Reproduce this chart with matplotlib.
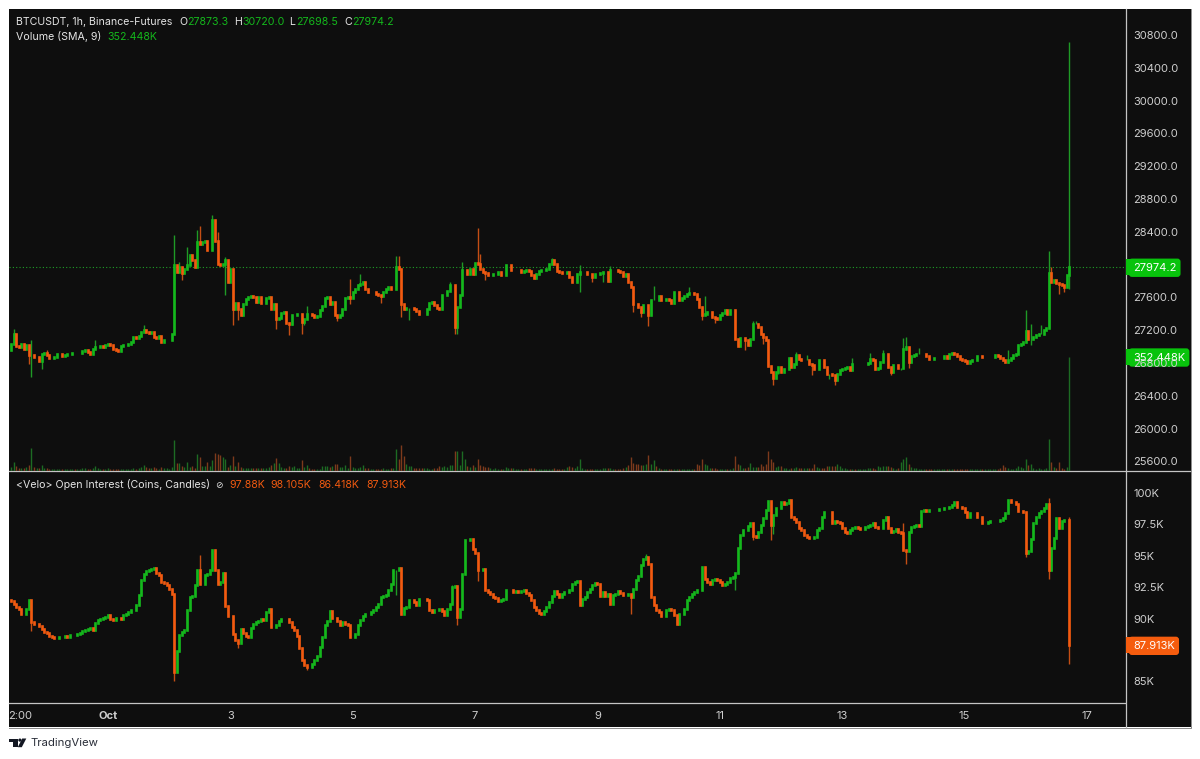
import numpy as np
import matplotlib
matplotlib.use("Agg")
import matplotlib.pyplot as plt
from matplotlib.patches import Rectangle, Circle, Polygon

plt.rcParams['font.family'] = ['Inter', 'DejaVu Sans']

# ===============================
# DATA
# ===============================

first_open = 26955
closes = [
    27036,27158,27004,26996,27028,26975,27016,26894,26894,26874,
    26874,26825,26906,26922,26894,26865,26865,26874,26906,26906,
    26882,26894,26914,26914,26922,26918,26922,26922,26947,26955,
    26930,26906,26967,26996,26996,27004,26996,27016,27036,27016,
    26975,26955,26947,27004,27016,27024,27028,27057,27118,27110,
    27126,27179,27199,27179,27167,27175,27118,27110,27126,27057,
    27077,27077,27085,27158,27992,27911,27972,27899,27952,27992,
    28115,28054,27972,28277,28257,28277,28290,28184,28184,28542,
    28290,28013,27992,28013,28054,27789,27952,27464,27533,27464,
    27382,27525,27586,27606,27614,27606,27545,27606,27533,27533,
    27598,27606,27464,27525,27341,27354,27411,27423,27289,27272,
    27382,27382,27403,27403,27301,27342,27403,27395,27382,27362,
    27370,27443,27492,27598,27606,27517,27545,27382,27362,27382,
    27464,27598,27606,27598,27667,27708,27749,27769,27789,27708,
    27667,27667,27667,27639,27626,27614,27667,27708,27728,27708,
    27708,27972,27952,27525,27464,27476,27476,27476,27464,27435,
    27403,27395,27403,27464,27533,27545,27504,27476,27464,27626,
    27626,27679,27749,27749,27240,27484,27626,27932,27932,27891,
    27952,27891,28021,28013,27952,27911,27899,27871,27871,27891,
    27891,27911,27871,27871,27993,27993,27932,27932,27932,27932,
    27911,27923,27932,27923,27871,27842,27891,27923,27932,27940,
    27952,28013,28062,28013,27923,27911,27899,27899,27911,27850,
    27789,27789,27883,27911,27911,27911,27891,27883,27850,27883,
    27891,27900,27912,27912,27802,27932,27940,27932,27924,27912,
    27859,27891,27790,27728,27525,27517,27484,27423,27505,27505,
    27383,27566,27574,27566,27615,27566,27574,27586,27574,27533,
    27667,27667,27574,27598,27615,27647,27655,27655,27647,27586,
    27484,27383,27403,27423,27423,27362,27354,27342,27383,27411,
    27444,27403,27444,27452,27098,27004,27110,27110,27077,27016,
    27098,27273,27273,27240,27151,27118,27086,26760,26691,26622,
    26691,26752,26691,26732,26732,26866,26752,26793,26894,26854,
    26841,26841,26841,26793,26772,26732,26732,26841,26833,26752,
    26671,26671,26650,26597,26671,26711,26732,26744,26752,26711,
    26793,26784,26784,26784,26784,26793,26801,26854,26833,26732,
    26744,26813,26907,26915,26752,26691,26772,26772,26744,26744,
    26976,26996,26813,26882,26894,26906,26906,26906,26914,26882,
    26853,26845,26866,26866,26866,26866,26882,26866,26906,26923,
    26906,26882,26853,26841,26825,26801,26825,26833,26841,26882,
    26882,26874,26874,26874,26874,26874,26894,26882,26866,26841,
    26813,26841,26866,26894,26914,27016,27037,27057,27191,27098,
    27098,27118,27138,27159,27159,27207,27232,27899,27789,27810,
    27777,27769,27749,27728,27871,27974.2,
]

# candles with a visible wick: index, then price
high_idx = [1,8,14,33,52,64,66,69,73,74,79,81,84,116,133,137,151,152,172,177,183,184,212,223,235,
            252,266,272,291,292,308,312,330,337,342,350,351,356,391,398,400,404,407,408,415]
high_val = [27219,27085,26963,27077,27260,28359,28033,28216,28420,28469,28603,28399,28094,27492,27830,
            27891,28102,28102,27789,28033,28452,28135,28082,27993,27981,27737,27728,27615,27309,27309,
            26935,26902,26866,26923,26963,27110,27118,26988,26955,27452,27281,27261,28168,27972,30720]
low_idx = [8,7,12,67,84,87,89,104,109,110,114,115,128,133,145,153,156,174,175,186,223,228,232,244,
           247,250,271,276,288,295,299,301,305,314,321,323,345,349,352,391,400,411,413,415]
low_val = [26629,26792,26731,27818,27626,27260,27329,27219,27138,27260,27159,27260,27313,27517,27533,
           27362,27329,27159,27150,27818,27667,27789,27790,27423,27362,27248,27322,27289,26955,27037,
           26528,26671,26752,26650,26610,26528,26660,26710,26744,26801,27016,27647,27668,27698.5]

# volume in thousands
volumes = [
    12,25,15,9,8,9,12,18,69,12, 9,9,18,9,9,6,6,6,6,6,
    6,6,6,6,6,6,6,6,9,9, 6,6,8,15,9,6,6,6,9,6,
    6,6,6,6,6,6,6,6,8,6, 9,12,18,12,9,9,12,9,6,12,
    9,9,6,12,94,22,22,15,12,25, 12,15,9,50,43,15,15,25,15,33,
    53,50,47,41,35,12,18,45,15,25, 12,9,9,9,8,8,8,8,9,9,
    9,12,18,22,38,22,12,9,9,15, 12,15,9,9,33,12,18,9,6,6,
    6,6,15,15,15,12,15,21,21,12, 12,18,9,45,12,9,9,12,18,9,
    9,6,6,6,6,6,9,6,6,9, 9,67,37,80,45,21,15,15,9,9,
    9,9,9,9,6,6,9,9,15,12, 15,12,18,18,59,59,18,59,37,15,
    12,18,12,37,18,15,12,12,9,6, 9,6,6,6,12,9,9,9,6,6,
    6,6,6,9,9,9,6,6,6,6, 6,6,6,9,6,6,6,6,12,15,
    12,9,15,37,9,6,6,6,6,6, 6,6,9,9,9,9,6,6,6,6,
    9,12,18,41,24,21,21,18,18,21, 48,21,31,15,9,6,6,6,6,6,
    6,6,6,6,6,6,6,6,6,21, 18,37,21,18,9,9,9,6,6,6,
    6,6,6,9,45,21,18,9,9,12, 24,12,12,12,21,15,21,59,37,27,
    12,15,15,9,9,6,9,9,12,9, 9,9,9,9,9,21,12,9,9,9,
    15,15,15,15,21,15,9,9,6,6, 6,6,6,6,6,6,9,9,9,6,
    15,12,15,15,15,12,9,6,9,27, 37,41,21,12,9,9,6,6,6,6,
    6,6,6,6,6,6,6,6,6,6, 6,6,6,6,6,6,6,6,6,6,
    6,6,6,6,6,6,6,6,9,18, 12,9,6,6,9,15,12,9,37,18,
    21,9,6,9,6,6,9,96,27,12, 9,27,9,6,12,352.448,
]

# open interest in thousands of coins
oi_first_open = 91.46
oi_closes = [
    91.38,91.14,90.93,90.80,90.40,90.40,90.80,91.46,89.74,89.60,
    89.55,89.39,89.20,88.94,88.86,88.59,88.54,88.46,88.49,88.54,
    88.54,88.59,88.54,88.67,88.67,88.67,88.75,88.86,88.99,89.12,
    89.20,89.28,89.07,89.66,89.92,90.00,90.05,90.13,90.27,90.00,
    89.92,90.08,90.08,90.00,90.27,90.40,90.53,90.72,90.72,91.07,
    91.86,93.11,93.59,93.80,93.91,93.99,94.07,93.65,93.46,92.93,
    92.85,92.66,92.40,92.00,85.75,87.42,88.67,88.94,89.07,90.72,
    91.73,91.78,92.66,93.91,92.74,92.79,93.46,93.59,93.91,95.45,
    93.91,92.79,92.93,93.65,90.99,90.19,90.19,88.75,88.27,88.06,
    89.20,88.86,88.59,88.54,89.28,89.60,89.74,89.81,90.00,89.92,
    90.53,90.80,89.34,89.34,89.47,89.81,89.97,90.00,89.97,89.74,
    89.34,89.07,88.59,87.69,86.68,86.28,86.14,86.14,86.36,86.68,
    86.99,87.74,88.54,89.47,89.81,90.61,90.08,90.08,89.81,89.47,
    89.74,89.60,89.47,88.54,88.54,88.75,89.47,89.87,90.19,90.40,
    90.40,90.53,90.72,90.93,91.20,91.73,91.78,91.86,92.31,92.79,
    93.86,93.86,94.07,90.34,90.88,90.93,91.46,91.52,91.33,91.06,
    91.60,91.60,91.60,91.46,90.72,90.53,90.72,90.72,90.80,90.61,
    90.27,90.80,91.20,92.53,92.58,90.13,90.80,93.54,96.25,96.30,
    96.36,95.51,95.24,93.91,93.91,93.99,92.26,92.13,91.94,91.73,
    91.67,91.41,91.46,91.60,92.31,92.31,92.26,92.13,92.21,92.13,
    92.18,92.26,92.05,91.86,91.46,90.93,90.72,90.45,90.34,90.61,
    90.93,91.33,91.78,92.21,92.00,91.73,92.00,92.13,92.13,92.26,
    92.74,92.93,93.00,91.12,91.60,91.73,92.13,92.39,92.66,92.85,
    92.79,91.78,92.13,91.78,91.94,91.20,91.86,92.00,92.18,92.05,
    91.86,91.86,91.94,91.73,92.39,93.06,93.38,94.26,94.79,94.92,
    94.33,91.73,91.06,90.72,90.53,90.19,90.19,90.72,90.80,90.72,
    90.27,89.55,90.34,90.40,90.80,91.46,91.73,92.00,92.13,92.26,
    92.26,94.12,93.19,92.93,92.79,93.06,93.19,93.06,92.93,92.66,
    92.79,92.93,93.27,93.32,93.64,95.59,96.65,97.05,97.05,97.37,
    97.58,96.57,96.52,96.92,97.45,97.98,98.65,99.39,97.45,98.25,
    98.78,98.78,99.31,99.12,99.18,99.44,98.06,97.90,97.72,97.18,
    97.05,96.65,96.52,96.46,96.39,96.52,97.05,97.18,98.11,98.46,
    98.51,98.51,97.58,97.77,97.72,97.58,97.18,96.92,96.84,97.05,
    97.18,97.32,97.18,97.10,97.10,97.26,97.37,97.45,97.58,97.26,
    97.24,97.18,97.85,98.06,97.18,96.92,97.00,97.10,96.92,96.84,
    95.45,95.40,96.92,97.32,97.37,97.45,97.37,98.59,98.65,98.59,
    98.65,98.65,98.65,98.65,98.70,98.70,98.78,98.78,98.91,99.05,
    99.31,98.91,98.86,98.81,98.51,98.11,98.38,98.43,98.38,98.06,
    98.06,97.64,97.64,97.72,97.74,97.74,97.79,97.79,97.85,97.98,
    98.38,99.44,99.31,99.31,99.12,98.59,98.57,98.51,95.24,95.40,
    96.31,97.58,98.11,98.38,98.59,98.78,99.12,93.91,95.59,96.39,
    97.98,97.18,97.79,97.85,97.88,87.913,
]
oi_high_idx = [74,80,173,249,350,407,415]
oi_high_val = [95.05,94.52,92.66,95.13,97.64,99.58,98.105]
oi_low_idx = [8,64,89,116,151,175,183,243,284,291,298,299,351,398,407,415]
oi_low_val = [89.0,85.03,87.69,85.88,91.86,89.47,93.0,90.40,92.31,96.3,96.3,96.73,94.39,94.87,93.19,86.418]

price_ticks = [25600 + 400 * k for k in range(14)]
oi_ticks = [85, 87.5, 90, 92.5, 95, 97.5, 100]
oi_tick_labels = ["85K", "87.5K", "90K", "92.5K", "95K", "97.5K", "100K"]

# time axis, candle index of each label
time_pos = [3.5, 38, 86, 134, 182, 230, 278, 326, 374, 422]
time_labels = ["2:00", "Oct", "3", "5", "7", "9", "11", "13", "15", "17"]

# ===============================
# COLOURS AND LAYOUT
# ===============================

BG = "#0e0e0e"
GREEN = "#14b81c"
ORANGE = "#f25a10"
GREEN_W = "#1f9a26"
ORANGE_W = "#c44e14"
GREEN_V = "#1d6b23"
ORANGE_V = "#7d3a1c"
TAG_GREEN = "#08c30c"
TAG_ORANGE = "#f55c0e"
TEXT = "#e4e4e4"
AXIS_TEXT = "#cfcfcf"
LINE = "#c4c4c4"

W, H = 1200, 759
fig = plt.figure(figsize=(W / 100, H / 100), dpi=100, facecolor="white")


def px_axes(x0, y0, x1, y1):
    # axes from pixel box, y counted from the top
    return fig.add_axes([x0 / W, 1 - y1 / H, (x1 - x0) / W, (y1 - y0) / H])


# backdrop in pixel units, holds frame and header texts
bg = fig.add_axes([0, 0, 1, 1], zorder=0)
bg.set_xlim(0, W)
bg.set_ylim(H, 0)
bg.axis("off")
bg.add_patch(Rectangle((9, 9), 1181.5, 718, facecolor=BG, edgecolor="none"))
bg.plot([9, 1190.5, 1190.5], [727.5, 727.5, 9], color="#8a8a8a", lw=0.7)
bg.plot([1125.5, 1125.5], [9, 727], color=LINE, lw=0.9)
bg.plot([9, 1190], [471, 471], color=LINE, lw=0.9)
bg.plot([9, 1125], [703, 703], color=LINE, lw=0.9)

X0, X1 = 9, 1125.5
XLIM = (-0.8, 437.1)
n = len(closes)
x = np.arange(n)


def candles(ax, first, cl, hi_idx, hi_val, lo_idx, lo_val):
    cl = np.array(cl, dtype=float)
    op = np.concatenate([[first], cl[:-1]])
    hi = np.maximum(op, cl)
    lo = np.minimum(op, cl)
    hi[hi_idx] = np.maximum(hi[hi_idx], hi_val)
    lo[lo_idx] = np.minimum(lo[lo_idx], lo_val)
    up = cl >= op
    ax.vlines(x[up], lo[up], hi[up], color=GREEN_W, lw=1.0, zorder=3)
    ax.vlines(x[~up], lo[~up], hi[~up], color=ORANGE_W, lw=1.0, zorder=3)
    ax.vlines(x[up], op[up], cl[up], color=GREEN, lw=1.9, capstyle="projecting", zorder=4)
    ax.vlines(x[~up], op[~up], cl[~up], color=ORANGE, lw=1.9, capstyle="projecting", zorder=4)
    return up


# -------------------------------
# VOLUME + PRICE PANE
# -------------------------------

ax_vol = px_axes(X0, 9, X1, 470.5)
ax_vol.set_zorder(1)
ax_vol.patch.set_alpha(0)
ax_vol.set_xlim(*XLIM)
ax_vol.set_ylim(0, 1427)
ax_vol.set_xticks([])
ax_vol.set_yticks([])
for s in ax_vol.spines.values():
    s.set_visible(False)

ax = px_axes(X0, 9, X1, 470.5)
ax.set_zorder(2)
ax.patch.set_alpha(0)
ax.set_xlim(*XLIM)
ax.set_ylim(25490, 31117)
up = candles(ax, first_open, closes, high_idx, high_val, low_idx, low_val)

vols = np.array(volumes, dtype=float)
ax_vol.vlines(x[up], 0, vols[up], color=GREEN_V, lw=1.0)
ax_vol.vlines(x[~up], 0, vols[~up], color=ORANGE_V, lw=1.0)

ax.axhline(27974.2, color="#1fa026", lw=0.8, ls=(0, (1, 2)), zorder=2)
ax.set_xticks([])
ax.yaxis.tick_right()
ax.set_yticks(price_ticks, [f"{v:.1f}" for v in price_ticks])
ax.tick_params(axis="y", length=0, pad=5.4, labelsize=8.0, labelcolor=AXIS_TEXT)
for s in ax.spines.values():
    s.set_visible(False)

# -------------------------------
# OPEN INTEREST PANE
# -------------------------------

ax_oi = px_axes(X0, 472, X1, 702.5)
ax_oi.set_zorder(2)
ax_oi.patch.set_alpha(0)
ax_oi.set_xlim(*XLIM)
ax_oi.set_ylim(83.32, 101.68)
candles(ax_oi, oi_first_open, oi_closes, oi_high_idx, oi_high_val, oi_low_idx, oi_low_val)
ax_oi.yaxis.tick_right()
ax_oi.set_yticks(oi_ticks, oi_tick_labels)
ax_oi.set_xticks(time_pos, time_labels)
ax_oi.tick_params(axis="y", length=0, pad=5.4, labelsize=8.0, labelcolor=AXIS_TEXT)
ax_oi.tick_params(axis="x", length=0, pad=6, labelsize=8.0, labelcolor=AXIS_TEXT)
ax_oi.get_xticklabels()[1].set_fontweight("bold")
for s in ax_oi.spines.values():
    s.set_visible(False)

# last value tags on the price scale
tag_x = (1133 - X0) / (X1 - X0)


def tag(axis, value, label, color):
    px = (axis.get_ylim()[1] - axis.get_ylim()[0]) / (axis.get_position().height * H)
    # square part against the scale line, rounded part comes from the text box
    axis.add_patch(Rectangle((1.0, value - 8 * px), tag_x - 0.99, 16 * px, transform=axis.get_yaxis_transform(),
                             facecolor=color, edgecolor="none", clip_on=False, zorder=9))
    axis.text(tag_x, value, label, transform=axis.get_yaxis_transform(), clip_on=False,
              color="white", fontsize=8.0, va="center_baseline", ha="left", zorder=10,
              bbox=dict(boxstyle="round,pad=0.2,rounding_size=0.12", facecolor=color, edgecolor=color, lw=2.8))


tag(ax, 27974.2, "27974.2", TAG_GREEN)
tag(ax_vol, 352.448, "352.448K", TAG_GREEN)
tag(ax_oi, 87.913, "87.913K", TAG_ORANGE)

# -------------------------------
# HEADER TEXTS
# -------------------------------

FS = 7.65
bg.text(16, 22, "BTCUSDT, 1h, Binance-Futures", color=TEXT, fontsize=FS, va="center")
for lx, vx, letter, val in [(179, 187, "O", "27873.3"), (234, 242, "H", "30720.0"),
                            (289, 296, "L", "27698.5"), (344, 352, "C", "27974.2")]:
    bg.text(lx, 22, letter, color=TEXT, fontsize=FS, va="center")
    bg.text(vx, 22, val, color=GREEN, fontsize=FS, va="center")

bg.text(16, 37, "Volume (SMA, 9)", color=TEXT, fontsize=FS, va="center")
bg.text(107, 37, "352.448K", color=GREEN, fontsize=FS, va="center")

bg.text(16, 485, "<Velo> Open Interest (Coins, Candles)", color=TEXT, fontsize=FS, va="center")
bg.text(219, 485, "\u2298", color=TEXT, fontsize=6.5, va="center", ha="center", family=["DejaVu Sans"])
for vx, val in [(229, "97.88K"), (270, "98.105K"), (318, "86.418K"), (366, "87.913K")]:
    bg.text(vx, 485, val, color=ORANGE, fontsize=FS, va="center")

# -------------------------------
# TRADINGVIEW MARK
# -------------------------------

LOGO = "#131722"
bg.add_patch(Rectangle((9, 738.5), 8.5, 3.2, facecolor=LOGO, edgecolor="none"))
bg.add_patch(Rectangle((13.3, 738.5), 4.2, 8.7, facecolor=LOGO, edgecolor="none"))
bg.add_patch(Circle((19.9, 740.1), 1.6, facecolor=LOGO, edgecolor="none"))
bg.add_patch(Polygon([[22.2, 738.5], [26.3, 738.5], [21.8, 747.2], [17.8, 747.2]], facecolor=LOGO, edgecolor="none"))
bg.text(30, 743.5, "TradingView", color="#2a2e39", fontsize=8.2, va="center")

fig.savefig("out.png", dpi=100, facecolor="white")
